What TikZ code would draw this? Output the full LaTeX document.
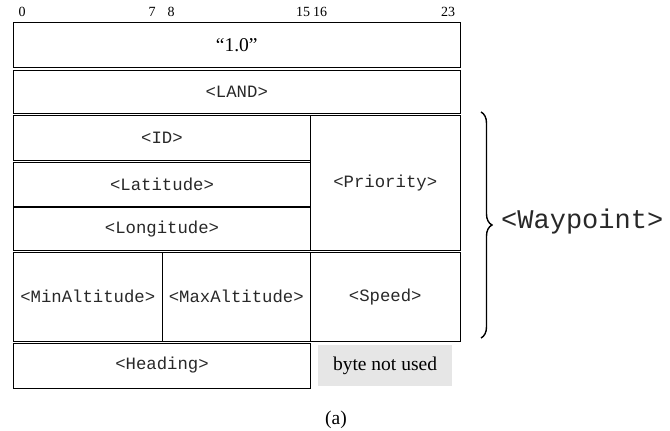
\documentclass[tikz,border=0pt]{standalone}
\usepackage{fontspec}
\setmainfont{Liberation Serif}
\newfontfamily\courfont{Liberation Mono}
\usetikzlibrary{decorations.pathreplacing}
\definecolor{unusedgray}{RGB}{230,230,230}
\definecolor{monotext}{RGB}{40,40,40}
\tikzset{
  field/.style={draw=black, line width=0.8pt, rectangle, inner sep=0pt, outer sep=0pt,
    text=monotext, font=\courfont\fontsize{17.3}{20}\selectfont},
  bitnum/.style={inner sep=0pt, font=\fontsize{14}{16}\selectfont},
  unusedbox/.style={rectangle, fill=unusedgray, inner sep=0pt, outer sep=0pt,
    font=\fontsize{19.5}{22}\selectfont},
  bracestyle/.style={decorate, decoration={brace, amplitude=11pt}, line width=1.4pt},
}
\begin{document}
\begin{tikzpicture}[x=1pt, y=-1pt]
\useasboundingbox (0,0) rectangle (670,431);
% bit numbers
\node[bitnum] (n0)  at (22,11.5)  {0};
\node[bitnum] (n7)  at (152,11.5) {7};
\node[bitnum] (n8)  at (171,11.5) {8};
\node[bitnum] (n15) at (303,11.5) {15};
\node[bitnum] (n16) at (320,11.5) {16};
\node[bitnum] (n23) at (448,11.5) {23};
% fields
\node[field, text=black, minimum width=446.5pt, minimum height=45pt] (ver) at (236.75,45) {\rmfamily\fontsize{19.5}{22}\selectfont “1.0”};
\node[field, minimum width=446.5pt, minimum height=43pt] (land) at (236.75,91.5) {<LAND>};
\node[field, minimum width=297pt, minimum height=45pt] (id) at (162,137.5) {<ID>};
\node[field, minimum width=297pt, minimum height=43.5pt] (lat) at (162,184.25) {<Latitude>};
\node[field, minimum width=297pt, minimum height=43pt] (lon) at (162,229) {<Longitude>};
\node[field, minimum width=149.5pt, minimum height=135.5pt] (prio) at (385.25,182.75) {<Priority>};
\node[field, minimum width=148.5pt, minimum height=88.5pt] (minalt) at (87.75,296.75) {<MinAltitude>};
\node[field, minimum width=148.5pt, minimum height=88.5pt] (maxalt) at (236.25,296.75) {<MaxAltitude>};
\node[field, minimum width=149.5pt, minimum height=89pt] (speed) at (385.25,297) {\raisebox{3pt}{<Speed>}};
\node[field, minimum width=297pt, minimum height=45pt] (heading) at (162,365.5) {<Heading>};
\node[unusedbox, minimum width=134pt, minimum height=41pt] (unused) at (385,365.5) {byte not used};
% brace
\coordinate (bt) at (481,112);
\coordinate (bb) at (481,338);
\draw[bracestyle] (bt) -- (bb);
\node[anchor=west, inner sep=0pt, text=monotext, font=\courfont\fontsize{27}{30}\selectfont] (wp) at (501,222) {<Waypoint>};
% caption
\node[inner sep=0pt, font=\fontsize{19.5}{22}\selectfont] (cap) at (336,419.5) {(a)};
\end{tikzpicture}
\end{document}
